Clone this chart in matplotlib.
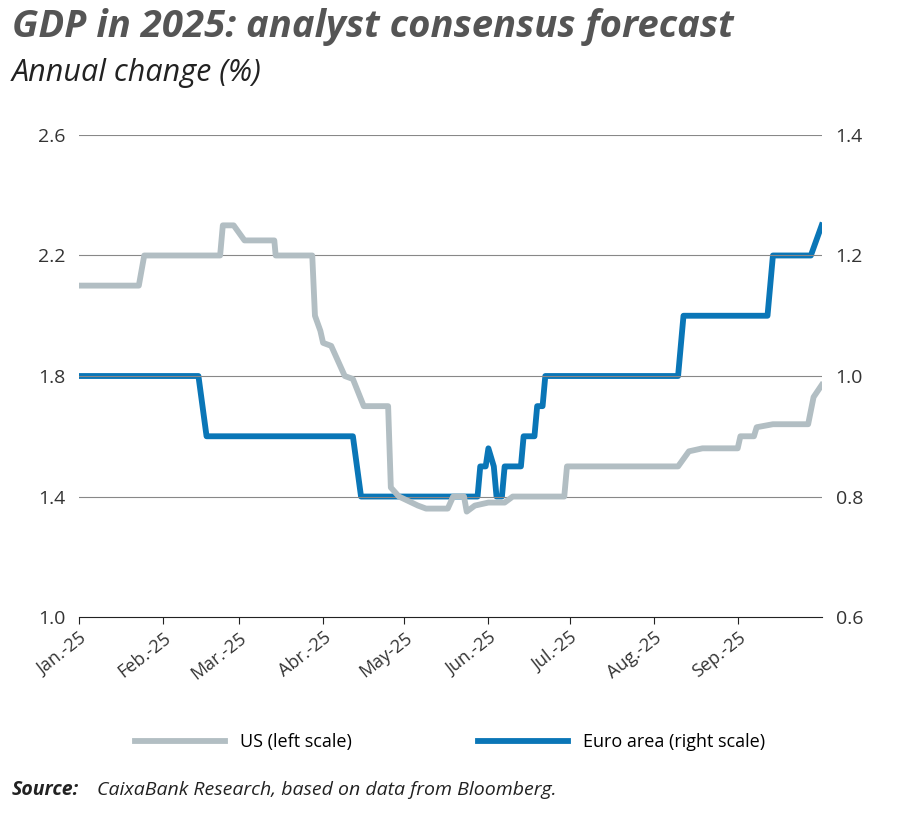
import matplotlib
matplotlib.use("Agg")
import matplotlib.pyplot as plt
import pandas as pd
import numpy as np

plt.rcParams['font.family'] = ['Open Sans', 'DejaVu Sans']

us_days = [0,22,24,52,53,57,61,72,72.5,86,87,89,90,93,98,101,105,114,115,118,125,128,136,138,142,143,146,151,157,160,179,180,221,225,230,243,244,249,250,256,269,271,274]
us_vals = [2.1,2.1,2.2,2.2,2.3,2.3,2.25,2.25,2.2,2.2,2.0,1.95,1.91,1.9,1.8,1.79,1.7,1.7,1.43,1.4,1.37,1.36,1.36,1.4,1.4,1.35,1.37,1.38,1.38,1.4,1.4,1.5,1.5,1.55,1.56,1.56,1.6,1.6,1.63,1.64,1.64,1.73,1.77]
eu_days = [0,44,47,101,104,147,148,150,151,153,154,156,157,158,163,164,168,169,171,172,221,223,254,256,270,274]
eu_vals = [1.0,1.0,0.9,0.9,0.8,0.8,0.85,0.85,0.88,0.85,0.8,0.8,0.85,0.85,0.85,0.9,0.9,0.95,0.95,1.0,1.0,1.1,1.1,1.2,1.2,1.25]
month_labels = ['Jan.-25','Feb.-25','Mar.-25','Abr.-25','May-25','Jun.-25','Jul.-25','Aug.-25','Sep.-25']

start = pd.Timestamp('2025-01-01')
us_x = [start + pd.Timedelta(days=d) for d in us_days]
eu_x = [start + pd.Timedelta(days=d) for d in eu_days]
ticks = pd.date_range('2025-01-01', periods=9, freq='MS')

fig = plt.figure(figsize=(9, 8.13), dpi=100)
ax = fig.add_axes([0.088, 0.241, 0.825, 0.593])
ax2 = ax.twinx()
gray = '#b2bec3'; blue = '#0a76b7'
l1, = ax.plot(us_x, us_vals, color=gray, lw=4.2, solid_joinstyle='round', zorder=3)
l2, = ax2.plot(eu_x, eu_vals, color=blue, lw=4.2, solid_joinstyle='round', zorder=3)

ax.set_ylim(1.0, 2.6); ax.set_yticks([1.0,1.4,1.8,2.2,2.6])
ax.set_yticklabels(['1.0','1.4','1.8','2.2','2.6'])
ax2.set_ylim(0.6, 1.4); ax2.set_yticks([0.6,0.8,1.0,1.2,1.4])
ax2.set_yticklabels(['0.6','0.8','1.0','1.2','1.4'])
ax.set_xlim(start, start + pd.Timedelta(days=274))
ax.set_xticks(ticks)
ax.set_xticklabels(month_labels, rotation=38, ha='right', rotation_mode='anchor', color='#333333', fontsize=13)
for a in (ax, ax2):
    for s in ['top','left','right']:
        a.spines[s].set_visible(False)
    a.tick_params(axis='y', length=0, labelsize=14, labelcolor='#333333', pad=10)
ax2.spines['bottom'].set_visible(False)
ax.spines['bottom'].set_color('#222222')
ax.tick_params(axis='x', length=5, color='#222222', direction='out')
ax.set_zorder(ax2.get_zorder()+1); ax.patch.set_visible(False)
for y in [1.4,1.8,2.2,2.6]:
    ax.axhline(y, color='#888888', lw=0.8, zorder=0)

fig.text(0.013, 0.955, 'GDP in 2025: analyst consensus forecast', fontsize=27.5, fontweight='bold', style='italic', color='#555555')
fig.text(0.013, 0.9, 'Annual change (%)', fontsize=22, style='italic', color='#222222')
fig.legend([l1, l2], ['US (left scale)', 'Euro area (right scale)'], loc='center', bbox_to_anchor=(0.5, 0.087),
           ncol=2, frameon=False, fontsize=13, handlelength=5, columnspacing=7)
fig.text(0.013, 0.022, 'Source:', fontsize=14, style='italic', fontweight='bold', color='#222222')
fig.text(0.108, 0.022, 'CaixaBank Research, based on data from Bloomberg.', fontsize=14, style='italic', color='#222222')
fig.savefig('out.png', dpi=100)
